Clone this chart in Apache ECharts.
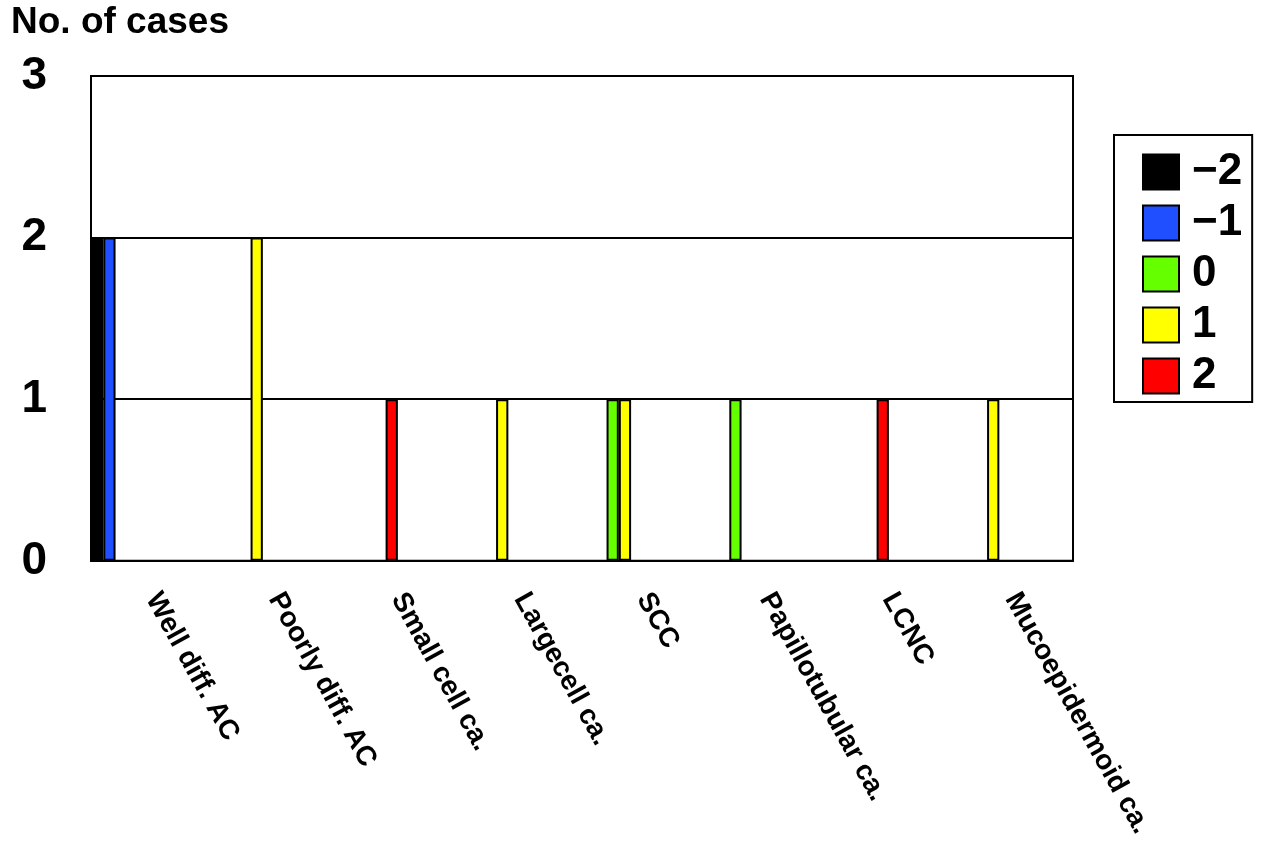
<!DOCTYPE html>
<html><head><meta charset="utf-8">
<script src="https://cdn.jsdelivr.net/npm/echarts@6/dist/echarts.min.js"></script>
<style>html,body{margin:0;padding:0;background:#fff}#c{width:1280px;height:841px}</style>
</head><body><div id="c"></div>
<script>
const categories = ['Well diff. AC','Poorly diff. AC','Small cell ca.','Largecell ca.','SCC','Papillotubular ca.','LCNC','Mucoepidermoid ca.'];
const seriesNames = ['\u22122','\u22121','0','1','2'];
const seriesColors = ['#000000','#1f4fff','#66ff00','#ffff00','#ff0000'];
const valsM2 = [2,0,0,0,0,0,0,0];
const valsM1 = [2,0,0,0,0,0,0,0];
const vals0  = [0,0,0,0,1,1,0,0];
const vals1  = [0,2,0,1,1,0,0,1];
const vals2  = [0,0,1,0,0,0,1,0];
const yTicks = [0,1,2,3];

const allVals = [valsM2, valsM1, vals0, vals1, vals2];
const FONT = 'Liberation Sans, Arial, sans-serif';
const series = allVals.map((v,i)=>({
  name: seriesNames[i], type:'bar', data: v.map(x=> x===0 ? null : x),
  barGap:'0%', barCategoryGap:'0%',
  itemStyle:{color:seriesColors[i], borderColor:'#000', borderWidth:2}
}));
// empty spacer series so real bars sit at the left part of each category
for (let k=0;k<5;k++) series.push({name:'sp'+k, type:'bar', data: categories.map(()=>null), barGap:'0%', barCategoryGap:'0%'});

const chart = echarts.init(document.getElementById('c'));
chart.setOption({
  animation:false,
  title:{text:'No. of cases', left:6, top:-1, textStyle:{fontFamily:FONT, fontSize:37, fontWeight:'bold', color:'#000'}},
  grid:{left:91, right:207, top:76, bottom:280, show:true, borderColor:'#000', borderWidth:2, backgroundColor:'#fff'},
  legend:{
    data: seriesNames, orient:'vertical', left:1114, top:135,
    itemWidth:36, itemHeight:35, itemGap:7, icon:'rect',
    borderColor:'#000', borderWidth:2, padding:[15,10,4,28],
    textStyle:{fontFamily:FONT, fontSize:44, fontWeight:'bold', color:'#000', padding:[0,0,0,8]}
  },
  xAxis:{type:'category', data:categories,
    axisLine:{show:true, lineStyle:{color:'#000', width:2}}, axisTick:{show:false},
    axisLabel:{interval:0, rotate:-61, margin:34, fontFamily:FONT, fontSize:28, fontWeight:'bold', color:'#000'}},
  yAxis:{type:'value', min:yTicks[0], max:yTicks[yTicks.length-1], interval:1,
    axisLine:{show:true, lineStyle:{color:'#000', width:2}}, axisTick:{show:false},
    splitLine:{show:true, lineStyle:{color:'#000', width:2}},
    axisLabel:{margin:44, fontFamily:FONT, fontSize:46, fontWeight:'bold', color:'#000'}},
  series: series
});
</script></body></html>
